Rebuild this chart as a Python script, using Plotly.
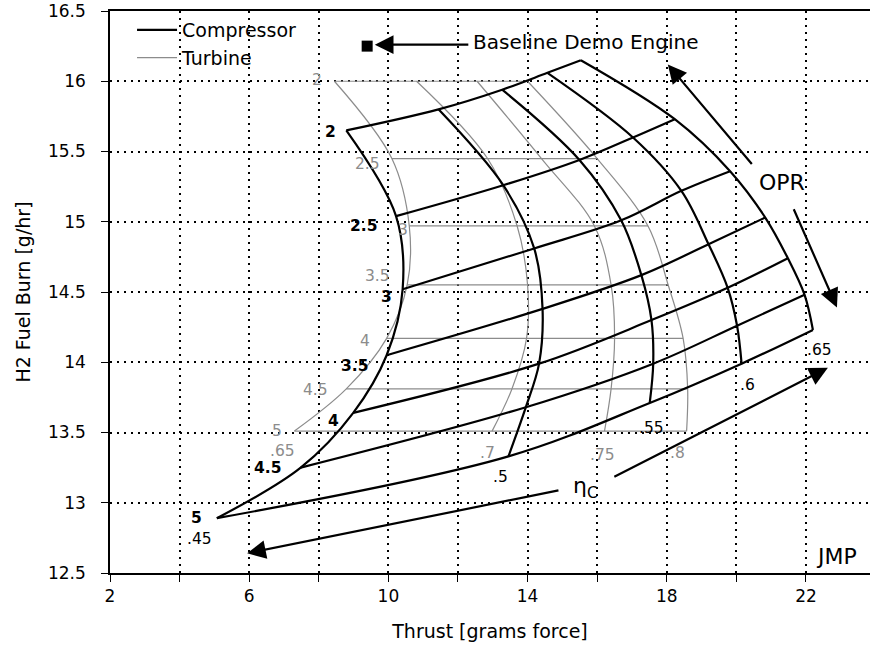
import plotly.graph_objects as go

# ---- Compressor carpet: rows = compressor efficiency, columns = OPR ----
opr = [2, 2.5, 3, 3.5, 4, 4.5, 5]
opr_labels = ["2", "2.5", "3", "3.5", "4", "4.5", "5"]
eta_c_labels = [".45", ".5", ".55", ".6", ".65"]
comp_thrust = [
    [8.79, 10.22, 10.41, 9.95, 8.99, 7.48, 5.07],
    [11.44, 13.30, 14.19, 14.43, 14.33, 13.95, 13.45],
    [13.27, 15.49, 16.69, 17.27, 17.56, 17.61, 17.51],
    [14.57, 17.03, 18.42, 19.20, 19.75, 20.02, 20.15],
    [15.53, 18.23, 19.82, 20.83, 21.48, 21.96, 22.20],
]
comp_fuel = [
    [15.65, 15.04, 14.52, 14.05, 13.64, 13.25, 12.89],
    [15.80, 15.26, 14.81, 14.38, 13.99, 13.68, 13.33],
    [15.94, 15.44, 15.01, 14.62, 14.30, 13.99, 13.71],
    [16.06, 15.60, 15.22, 14.84, 14.53, 14.26, 13.99],
    [16.15, 15.73, 15.36, 15.03, 14.74, 14.48, 14.23],
]

# ---- Turbine carpet: rows = turbine efficiency, columns = turbine PR ----
tpr_labels = ["2", "2.5", "3", "3.5", "4", "4.5", "5"]
eta_t_labels = [".65", ".7", ".75", ".8"]
tpr_fuel = [16.0, 15.45, 14.97, 14.55, 14.17, 13.81, 13.51]
turb_thrust = [
    [8.45, 10.10, 10.60, 10.54, 9.95, 8.79, 7.30],
    [10.81, 12.85, 13.70, 14.00, 13.97, 13.55, 12.98],
    [12.55, 14.40, 15.92, 16.40, 16.50, 16.40, 16.21],
    [14.00, 16.00, 17.46, 18.04, 18.47, 18.60, 18.57],
]

baseline_thrust = [9.39]
baseline_fuel = [16.25]

x_ticks = [2, 4, 6, 8, 10, 12, 14, 16, 18, 20, 22]
x_ticktext = ["2", "", "6", "", "10", "", "14", "", "18", "", "22"]
y_ticks = [12.5, 13, 13.5, 14, 14.5, 15, 15.5, 16, 16.5]

BLACK = "#000000"
GRAY = "#8c8c8c"
FONT = "DejaVu Sans, sans-serif"

fig = go.Figure()

# turbine efficiency curves
for i, row in enumerate(turb_thrust):
    fig.add_trace(go.Scatter(
        x=row, y=tpr_fuel, mode="lines",
        line=dict(color=GRAY, width=1.2, shape="spline", smoothing=1.0),
        name="Turbine", legendgroup="turb", showlegend=(i == 0),
        legendrank=2, hoverinfo="skip"))
# turbine pressure-ratio lines (constant fuel burn)
for j in range(len(tpr_fuel)):
    fig.add_trace(go.Scatter(
        x=[turb_thrust[0][j], turb_thrust[-1][j]],
        y=[tpr_fuel[j], tpr_fuel[j]], mode="lines",
        line=dict(color=GRAY, width=1.2),
        legendgroup="turb", showlegend=False, hoverinfo="skip"))

# compressor efficiency curves
for i in range(len(comp_thrust)):
    fig.add_trace(go.Scatter(
        x=comp_thrust[i], y=comp_fuel[i], mode="lines",
        line=dict(color=BLACK, width=2.2, shape="spline", smoothing=1.0),
        name="Compressor", legendgroup="comp", showlegend=(i == 0),
        legendrank=1, hoverinfo="skip"))
# compressor OPR lines
for j in range(len(opr)):
    fig.add_trace(go.Scatter(
        x=[r[j] for r in comp_thrust], y=[r[j] for r in comp_fuel],
        mode="lines",
        line=dict(color=BLACK, width=2.2, shape="spline", smoothing=1.0),
        legendgroup="comp", showlegend=False, hoverinfo="skip"))

# baseline engine
fig.add_trace(go.Scatter(
    x=baseline_thrust, y=baseline_fuel, mode="markers",
    marker=dict(symbol="square", size=11, color=BLACK),
    showlegend=False, hoverinfo="skip"))

ann = []

def label(x, y, text, dx, dy, color, size=16, weight="normal"):
    ann.append(dict(x=x, y=y, text=text, showarrow=False, xshift=dx, yshift=-dy,
                    font=dict(family=FONT, size=size, color=color, weight=weight),
                    xanchor="center", yanchor="middle"))

# OPR labels along the .45 efficiency edge
opr_off = [(-16, 2), (-33, 10), (-16, 8), (-32, 11), (-20, 8), (-33, 0), (-20, 0)]
for j, t in enumerate(opr_labels):
    label(comp_thrust[0][j], comp_fuel[0][j], t, *opr_off[j], BLACK, 15.5, "bold")
# compressor efficiency labels along the OPR = 5 edge
eta_off = [(-17, 21), (-8, 21), (2, 25), (6, 21), (7, 20)]
for i, t in enumerate(eta_c_labels):
    label(comp_thrust[i][-1], comp_fuel[i][-1], t, *eta_off[i], BLACK, 15.5)
# turbine PR labels
tpr_off = [(-17, -1), (-24, 5), (-6, 4), (-30, -9), (-22, 3), (-31, 1), (-17, 0)]
for j, t in enumerate(tpr_labels):
    label(turb_thrust[0][j], tpr_fuel[j], t, *tpr_off[j], GRAY, 15.5)
# turbine efficiency labels
etat_off = [(-12, 20), (-5, 22), (-2, 24), (-9, 22)]
for i, t in enumerate(eta_t_labels):
    label(turb_thrust[i][-1], tpr_fuel[-1], t, *etat_off[i], GRAY, 15.5)

# arrows
def arrow(x, y, ax, ay):
    ann.append(dict(x=x, y=y, ax=ax, ay=ay, xref="x", yref="y", axref="x", ayref="y",
                    text="", showarrow=True, arrowhead=2, arrowsize=1.7,
                    arrowwidth=2.2, arrowcolor=BLACK))

arrow(9.61, 16.26, 12.34, 16.26)
arrow(18.03, 16.12, 20.48, 15.40)
arrow(22.89, 14.39, 21.63, 15.10)
arrow(22.63, 13.96, 16.45, 13.18)
arrow(5.94, 12.64, 14.93, 13.09)

ann.append(dict(x=12.38, y=16.28, text="Baseline Demo Engine", showarrow=False,
                xanchor="left", yanchor="middle",
                font=dict(family=FONT, size=20, color=BLACK)))
ann.append(dict(x=21.31, y=15.28, text="OPR", showarrow=False,
                font=dict(family=FONT, size=22, color=BLACK)))
ann.append(dict(x=15.65, y=13.11, text="η<sub>C</sub>", showarrow=False,
                font=dict(family=FONT, size=22, color=BLACK)))
ann.append(dict(x=22.89, y=12.62, text="JMP", showarrow=False,
                font=dict(family=FONT, size=22, color=BLACK)))

axis_common = dict(
    showline=True, linecolor=BLACK, linewidth=1.5,
    showgrid=True, gridcolor=BLACK, gridwidth=1.6, griddash="2px,5px",
    ticks="outside", ticklen=7, tickwidth=1.3, tickcolor=BLACK,
    tickfont=dict(family=FONT, size=17, color=BLACK),
    zeroline=False,
)

fig.update_layout(
    width=870, height=652,
    margin=dict(l=110, r=0, t=11, b=79),
    plot_bgcolor="white", paper_bgcolor="white",
    xaxis=dict(range=[2, 23.84], tickmode="array", tickvals=x_ticks, ticktext=x_ticktext,
               mirror=True, ticklabelstandoff=0,
               title=dict(text="Thrust [grams force]", font=dict(family=FONT, size=19, color=BLACK),
                          standoff=20),
               **axis_common),
    yaxis=dict(range=[12.5, 16.5], tickmode="array", tickvals=y_ticks,
               ticktext=[f"{v:g}" for v in y_ticks], mirror=False, ticklabelstandoff=12,
               title=dict(text="H2 Fuel Burn [g/hr]", font=dict(family=FONT, size=19, color=BLACK),
                          standoff=12),
               **axis_common),
    legend=dict(x=0.029, y=1.0, xanchor="left", yanchor="top",
                bgcolor="rgba(0,0,0,0)", itemwidth=40, traceorder="normal",
                font=dict(family=FONT, size=19, color=BLACK), tracegroupgap=0),
    annotations=ann,
    showlegend=True,
)

fig.write_html("out.html")
